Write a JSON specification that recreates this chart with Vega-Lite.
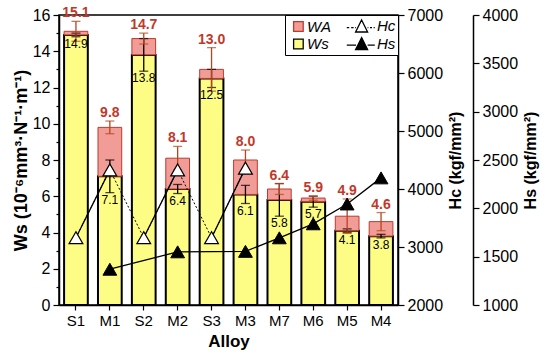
{
  "$schema": "https://vega.github.io/schema/vega-lite/v6.json",
  "width": 339,
  "height": 290,
  "autosize": {"type": "none"},
  "padding": {"left": 59, "top": 15, "right": 152, "bottom": 54},
  "background": "white",
  "config": {
    "font": "Liberation Sans",
    "view": {"stroke": "black", "strokeWidth": 1.5},
    "axis": {"domainColor": "black", "domainWidth": 1.5, "tickColor": "black", "tickWidth": 1.2, "labelColor": "black", "titleColor": "black", "grid": false, "labelFont": "Liberation Sans", "titleFont": "Liberation Sans", "labelOverlap": false}
  },
  "data": {
    "values": [
      {"alloy": "S1", "ws": 14.9, "wsErr": 0.1, "wt": 15.1, "wtErr": 0.55, "hc": 3160, "hs": null, "pair": "p1"},
      {"alloy": "M1", "ws": 7.1, "wsErr": 0.9, "wt": 9.8, "wtErr": 0.35, "hc": 4330, "hs": 1370, "pair": "p1"},
      {"alloy": "S2", "ws": 13.8, "wsErr": 0.9, "wt": 14.7, "wtErr": 0.3, "hc": 3160, "hs": null, "pair": "p2"},
      {"alloy": "M2", "ws": 6.4, "wsErr": 0.25, "wt": 8.1, "wtErr": 0.65, "hc": 4330, "hs": 1550, "pair": "p2"},
      {"alloy": "S3", "ws": 12.5, "wsErr": 0.5, "wt": 13.0, "wtErr": 1.2, "hc": 3160, "hs": null, "pair": "p3"},
      {"alloy": "M3", "ws": 6.1, "wsErr": 0.5, "wt": 8.0, "wtErr": 0.55, "hc": 4360, "hs": 1555, "pair": "p3"},
      {"alloy": "M7", "ws": 5.8, "wsErr": 0.9, "wt": 6.4, "wtErr": 0.3, "hc": null, "hs": 1695, "pair": null},
      {"alloy": "M6", "ws": 5.7, "wsErr": 0.3, "wt": 5.9, "wtErr": 0.12, "hc": null, "hs": 1840, "pair": null},
      {"alloy": "M5", "ws": 4.1, "wsErr": 0.1, "wt": 4.9, "wtErr": 0.95, "hc": null, "hs": 2045, "pair": null},
      {"alloy": "M4", "ws": 3.8, "wsErr": 0.1, "wt": 4.6, "wtErr": 0.5, "hc": null, "hs": 2315, "pair": null}
    ]
  },
  "encoding": {
    "x": {
      "field": "alloy", "type": "nominal", "sort": null,
      "scale": {"paddingInner": 0.3, "paddingOuter": 0.15},
      "axis": {"title": "Alloy", "titleFontSize": 17, "titleFontWeight": "bold", "labelFontSize": 15, "labelAngle": 0, "tickSize": 5, "labelPadding": 3, "titlePadding": 5}
    }
  },
  "layer": [
    {
      "layer": [
        {
          "mark": {"type": "bar", "stroke": "black", "strokeWidth": 2, "fill": "#fdfd86"},
          "encoding": {
            "y": {"field": "ws", "type": "quantitative",
              "scale": {"domain": [0, 16], "nice": false},
              "axis": {"title": "Ws (10⁻⁶mm³·N⁻¹·m⁻¹)", "titleFontSize": 18, "titleFontWeight": "bold", "titlePadding": 2, "values": [0,1,2,3,4,5,6,7,8,9,10,11,12,13,14,15,16], "labelExpr": "datum.value % 2 == 0 ? datum.label : ''", "labelOverlap": false, "labelFontSize": 16, "labelPadding": 3, "tickSize": {"condition": {"test": "datum.value % 2 == 0", "value": 6}, "value": 3}}}
          }
        },
        {
          "mark": {"type": "bar", "stroke": "#c0392b", "strokeWidth": 1, "fill": "#f29c97"},
          "encoding": {
            "y": {"field": "ws", "type": "quantitative",
              "axis": {"title": "Ws (10⁻⁶mm³·N⁻¹·m⁻¹)", "titleFontSize": 18, "titleFontWeight": "bold", "titlePadding": 2, "values": [0,1,2,3,4,5,6,7,8,9,10,11,12,13,14,15,16], "labelExpr": "datum.value % 2 == 0 ? datum.label : ''", "labelOverlap": false, "labelFontSize": 16, "labelPadding": 3, "tickSize": {"condition": {"test": "datum.value % 2 == 0", "value": 6}, "value": 3}}},
            "y2": {"field": "wt"}
          }
        },
        {
          "mark": {"type": "errorbar", "ticks": {"size": 9, "color": "black"}, "color": "black", "thickness": 1.3},
          "encoding": {
            "y": {"field": "ws", "type": "quantitative",
              "axis": {"title": "Ws (10⁻⁶mm³·N⁻¹·m⁻¹)", "titleFontSize": 18, "titleFontWeight": "bold", "titlePadding": 2, "values": [0,1,2,3,4,5,6,7,8,9,10,11,12,13,14,15,16], "labelExpr": "datum.value % 2 == 0 ? datum.label : ''", "labelOverlap": false, "labelFontSize": 16, "labelPadding": 3, "tickSize": {"condition": {"test": "datum.value % 2 == 0", "value": 6}, "value": 3}}},
            "yError": {"field": "wsErr"}
          }
        },
        {
          "mark": {"type": "errorbar", "ticks": {"size": 9, "color": "#b5451b"}, "color": "#b5451b", "thickness": 1.3},
          "encoding": {
            "y": {"field": "wt", "type": "quantitative",
              "axis": {"title": "Ws (10⁻⁶mm³·N⁻¹·m⁻¹)", "titleFontSize": 18, "titleFontWeight": "bold", "titlePadding": 2, "values": [0,1,2,3,4,5,6,7,8,9,10,11,12,13,14,15,16], "labelExpr": "datum.value % 2 == 0 ? datum.label : ''", "labelOverlap": false, "labelFontSize": 16, "labelPadding": 3, "tickSize": {"condition": {"test": "datum.value % 2 == 0", "value": 6}, "value": 3}}},
            "yError": {"field": "wtErr"}
          }
        },
        {
          "transform": [{"calculate": "datum.wt + datum.wtErr", "as": "tTop"}],
          "mark": {"type": "text", "baseline": "bottom", "dy": -1, "fontSize": 14, "fontWeight": "bold", "color": "#c0392b"},
          "encoding": {
            "y": {"field": "tTop", "type": "quantitative",
              "axis": {"title": "Ws (10⁻⁶mm³·N⁻¹·m⁻¹)", "titleFontSize": 18, "titleFontWeight": "bold", "titlePadding": 2, "values": [0,1,2,3,4,5,6,7,8,9,10,11,12,13,14,15,16], "labelExpr": "datum.value % 2 == 0 ? datum.label : ''", "labelOverlap": false, "labelFontSize": 16, "labelPadding": 3, "tickSize": {"condition": {"test": "datum.value % 2 == 0", "value": 6}, "value": 3}}},
            "text": {"field": "wt", "type": "quantitative", "format": ".1f"}
          }
        },
        {
          "transform": [{"calculate": "datum.ws - datum.wsErr", "as": "bLo"}],
          "mark": {"type": "text", "baseline": "top", "dy": 2, "fontSize": 12, "color": "black"},
          "encoding": {
            "y": {"field": "bLo", "type": "quantitative",
              "axis": {"title": "Ws (10⁻⁶mm³·N⁻¹·m⁻¹)", "titleFontSize": 18, "titleFontWeight": "bold", "titlePadding": 2, "values": [0,1,2,3,4,5,6,7,8,9,10,11,12,13,14,15,16], "labelExpr": "datum.value % 2 == 0 ? datum.label : ''", "labelOverlap": false, "labelFontSize": 16, "labelPadding": 3, "tickSize": {"condition": {"test": "datum.value % 2 == 0", "value": 6}, "value": 3}}},
            "text": {"field": "ws", "type": "quantitative", "format": ".1f"}
          }
        }
      ]
    },
    {
      "transform": [{"filter": "datum.hc != null"}],
      "layer": [
        {
          "mark": {"type": "line", "color": "black", "strokeWidth": 1, "strokeDash": [2, 2]},
          "encoding": {
            "y": {"field": "hc", "type": "quantitative",
              "scale": {"domain": [2000, 7000], "nice": false},
              "axis": {"orient": "right", "title": "Hc (kgf/mm²)", "titleAngle": 270, "titleBaseline": "top", "titleFontSize": 16, "titleFontWeight": "bold", "titlePadding": 5,
                "values": [2000,2500,3000,3500,4000,4500,5000,5500,6000,6500,7000],
                "labelExpr": "datum.value % 1000 == 0 ? datum.label : ''",
                "labelFontSize": 16, "labelPadding": 3, "format": "d",
                "tickSize": {"condition": {"test": "datum.value % 1000 == 0", "value": 6}, "value": 3}}}
          }
        },
        {
          "mark": {"type": "line", "color": "black", "strokeWidth": 1.3},
          "encoding": {
            "y": {"field": "hc", "type": "quantitative"},
            "detail": {"field": "pair", "type": "nominal"}
          }
        },
        {
          "mark": {"type": "point", "shape": "triangle-up", "filled": true, "fill": "white", "size": 190, "stroke": "black", "strokeWidth": 1.2, "opacity": 1},
          "encoding": {
            "y": {"field": "hc", "type": "quantitative"}
          }
        }
      ]
    },
    {
      "transform": [{"filter": "datum.hs != null"}],
      "layer": [
        {
          "mark": {"type": "line", "color": "black", "strokeWidth": 1.3},
          "encoding": {
            "y": {"field": "hs", "type": "quantitative",
              "scale": {"domain": [1000, 4000], "nice": false},
              "axis": {"orient": "right", "offset": 75, "title": "Hs (kgf/mm²)", "titleAngle": 270, "titleBaseline": "top", "titleFontSize": 16, "titleFontWeight": "bold", "titlePadding": 5,
                "values": [1000,1250,1500,1750,2000,2250,2500,2750,3000,3250,3500,3750,4000],
                "labelExpr": "datum.value % 500 == 0 ? datum.label : ''",
                "labelFontSize": 16, "labelPadding": 3, "format": "d",
                "tickSize": {"condition": {"test": "datum.value % 500 == 0", "value": 6}, "value": 3}}}
          }
        },
        {
          "mark": {"type": "point", "shape": "triangle-up", "filled": true, "fill": "black", "size": 190, "stroke": "black", "strokeWidth": 1, "opacity": 1},
          "encoding": {
            "y": {"field": "hs", "type": "quantitative"}
          }
        }
      ]
    },
    {
      "transform": [{"filter": "false"}],
      "mark": {"type": "point", "filled": true, "opacity": 1, "strokeWidth": 1.3},
      "encoding": {
        "fill": {"datum": "WA", "type": "nominal",
          "scale": {"domain": ["WA", "Hc", "Ws", "Hs"], "range": ["#f29c97", "white", "#fdfd86", "black"]},
          "legend": {
            "title": null, "orient": "top-right", "offset": 0, "columns": 2, "direction": "horizontal",
            "strokeColor": "black", "fillColor": "white", "padding": 2,
            "symbolSize": 256, "symbolStrokeWidth": 1.3, "symbolOpacity": 1,
            "labelFontSize": 15, "labelFontStyle": "italic", "labelOffset": 2,
            "columnPadding": 13, "rowPadding": 0
          }
        },
        "shape": {"datum": "WA", "type": "nominal",
          "scale": {"domain": ["WA", "Hc", "Ws", "Hs"], "range": [
            "M-0.3,-0.62H0.9V0.62H-0.3Z",
            "M-2.4,0.15H-2.1M-1.85,0.15H-1.55M-1.35,0.15H-1.25M-0.55,-0.8L0.2,0.7L-1.3,0.7ZM0.2,0.15H0.3M0.5,0.15H0.75M0.95,0.15H1.1",
            "M-0.3,-0.62H0.9V0.62H-0.3Z",
            "M-2.4,0.15H-1.25M-0.55,-0.8L0.2,0.7L-1.3,0.7ZM0.2,0.15H1.1"
          ]},
          "legend": {"title": null, "orient": "top-right"}
        },
        "stroke": {"datum": "WA", "type": "nominal",
          "scale": {"domain": ["WA", "Hc", "Ws", "Hs"], "range": ["#c0392b", "black", "black", "black"]},
          "legend": {"title": null, "orient": "top-right"}
        }
      }
    }
  ],
  "resolve": {"scale": {"y": "independent"}}
}
